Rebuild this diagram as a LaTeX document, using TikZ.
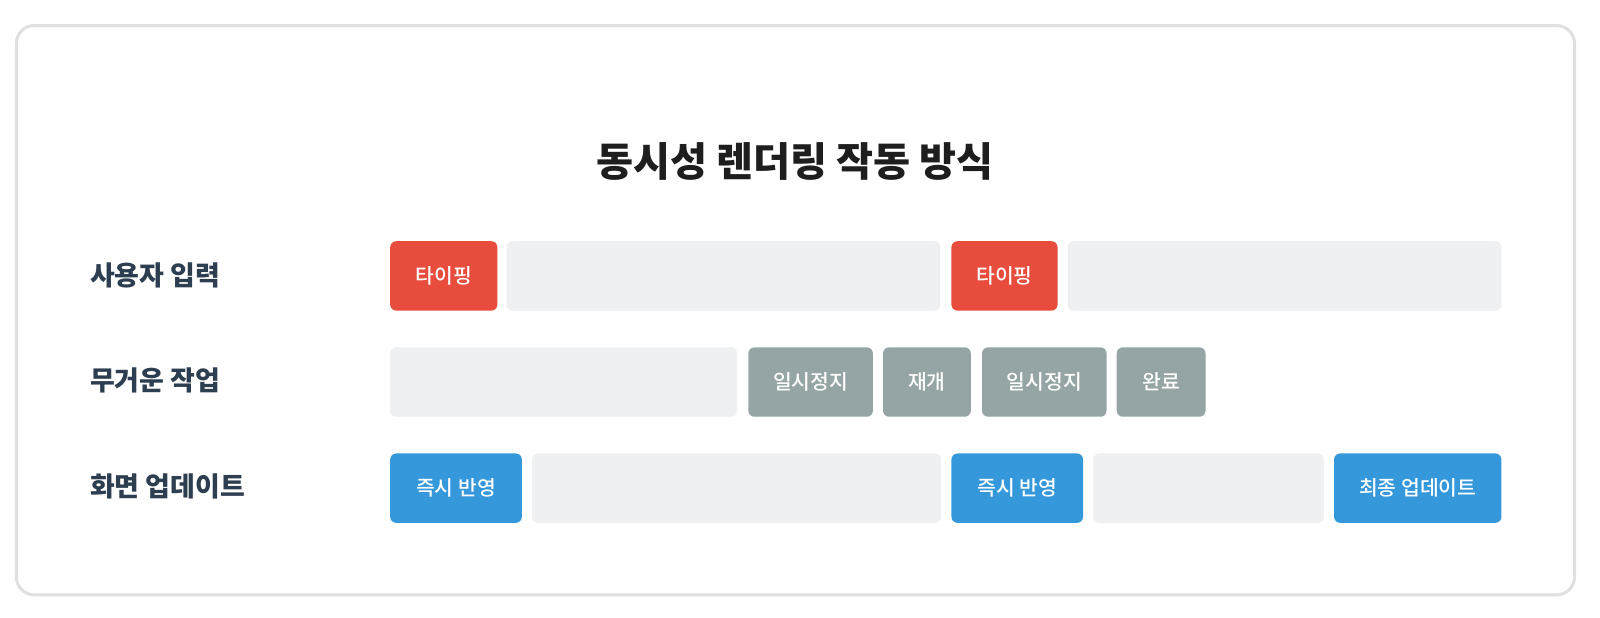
\documentclass[tikz,border=0pt]{standalone}
\usepackage{fontspec}
\setmainfont{Noto Sans CJK KR}
\newfontfamily\medfont{Noto Sans CJK KR}[UprightFont={* Medium}]
\definecolor{frame}{HTML}{E0E0E0}
\definecolor{redc}{HTML}{E74C3C}
\definecolor{grayc}{HTML}{95A5A6}
\definecolor{bluec}{HTML}{3498DB}
\definecolor{lightc}{HTML}{EEF0F1}
\definecolor{labelc}{HTML}{2C3E50}
\definecolor{titlec}{HTML}{1E1E1E}
\tikzset{
  blk/.style={anchor=north west, inner sep=0pt, minimum height=34pt, rounded corners=3pt, text=white, font=\medfont\fontsize{10pt}{11pt}\selectfont},
  redbox/.style={blk, fill=redc},
  graybox/.style={blk, fill=grayc},
  bluebox/.style={blk, fill=bluec},
  emptybox/.style={blk, fill=lightc},
  rowlabel/.style={anchor=west, inner sep=0pt, text=labelc, font=\fontsize{13.2pt}{15pt}\selectfont\bfseries},
}
\begin{document}
\begin{tikzpicture}[x=0.5pt,y=-0.5pt,scale=1.0204,every node/.append style={transform shape}]
\useasboundingbox (0,0) rectangle (1568,605.6);
\fill[white] (0,0) rectangle (1568,605.6);
\draw[line width=1.5pt, frame, rounded corners=9pt] (16,25) rectangle (1543,583);
\node[text=titlec, font=\fontsize{19.7pt}{22pt}\selectfont\bfseries] (title) at (779,158) {동시성 렌더링 작동 방식};
% labels
\node[rowlabel] (l1) at (88,270) {사용자 입력};
\node[rowlabel] (l2) at (88,373) {무거운 작업};
\node[rowlabel] (l3) at (88,477) {화면 업데이트};
% row 1
\node[redbox, minimum width=52.5pt] (r1a) at (382,236) {타이핑};
\node[emptybox, minimum width=212.5pt] (r1b) at (496,236) {};
\node[redbox, minimum width=52pt] (r1c) at (932,236) {타이핑};
\node[emptybox, minimum width=212.5pt] (r1d) at (1046,236) {};
% row 2
\node[emptybox, minimum width=170pt] (r2a) at (382,340) {};
\node[graybox, minimum width=61pt] (r2b) at (733,340) {일시정지};
\node[graybox, minimum width=43pt] (r2c) at (865,340) {재개};
\node[graybox, minimum width=61pt] (r2d) at (962,340) {일시정지};
\node[graybox, minimum width=43.5pt] (r2e) at (1094,340) {완료};
% row 3
\node[bluebox, minimum width=64.5pt] (r3a) at (382,444) {즉시 반영};
\node[emptybox, minimum width=200.5pt] (r3b) at (521,444) {};
\node[bluebox, minimum width=64.5pt] (r3c) at (932,444) {즉시 반영};
\node[emptybox, minimum width=113pt] (r3d) at (1071,444) {};
\node[bluebox, minimum width=82pt] (r3e) at (1307,444) {최종 업데이트};
\end{tikzpicture}
\end{document}
